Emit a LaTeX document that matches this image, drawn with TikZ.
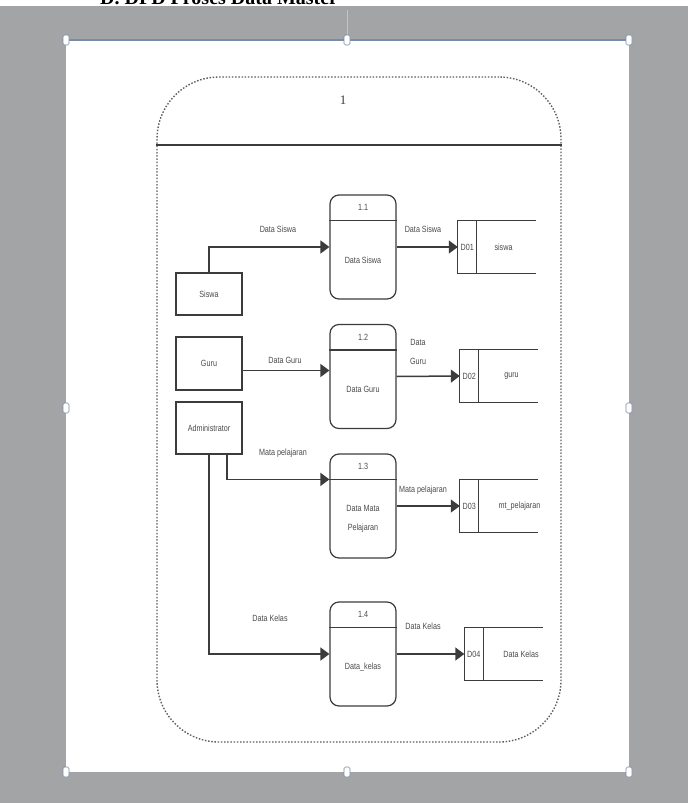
\documentclass[tikz,border=0pt]{standalone}
\usepackage{fontspec}
\newfontfamily\dfdfont[FakeStretch=0.8]{Liberation Sans}
\newfontfamily\headfont{Liberation Serif}
\usetikzlibrary{positioning,arrows.meta,calc}
\definecolor{deskgray}{RGB}{163,164,166}
\definecolor{inkgray}{RGB}{60,60,60}
\definecolor{textgray}{RGB}{75,75,75}
\definecolor{dotgray}{RGB}{95,95,95}
\definecolor{handleblue}{RGB}{118,140,168}
\tikzset{
  entity/.style={rectangle,draw=inkgray,line width=1.2pt,minimum width=66pt,
    font=\dfdfont\fontsize{9}{19}\selectfont,text=textgray},
  process/.style={rectangle,rounded corners=9pt,draw=inkgray,line width=1.2pt,
    minimum width=66pt,minimum height=104pt},
  store/.style={rectangle,minimum width=78pt,minimum height=52pt,inner sep=0pt},
  flow/.style={draw=inkgray,line width=1.5pt,-{Triangle[length=9pt,width=13pt]}},
  lbl/.style={font=\dfdfont\fontsize{9}{19}\selectfont,text=textgray,inner sep=1pt},
}

\begin{document}
\begin{tikzpicture}[x=1pt,y=-1pt]
\useasboundingbox (0,0) rectangle (688,803);
\clip (0,0) rectangle (688,803);
% screen and page
\fill[deskgray] (0,0) rectangle (688,803);
\fill[white] (0,0) rectangle (688,6);
\node[font=\headfont\bfseries\fontsize{20}{24}\selectfont,anchor=base west,inner sep=0pt] (head) at (100,5) {D. DFD Proses Data Master};
\fill[white] (66,40) rectangle (629,772);
\draw[handleblue,line width=1.5pt] (66,40) -- (629,40);
\draw[handleblue!50,line width=0.6pt] (347,10) -- (347,40);
\foreach \hx/\hy in {66/40,347/40,629/40,66/408,629/408,66/772,347/772,629/772}
  \draw[handleblue,fill=white,rounded corners=1.5pt,line width=0.6pt] (\hx-3,\hy-5) rectangle (\hx+3,\hy+5);

% process 1 boundary
\node[rectangle,rounded corners=62pt,draw=dotgray,line width=1.4pt,dash pattern=on 1.5pt off 1.7pt,
  minimum width=404pt,minimum height=665pt] (proc1) at (359,409.5) {};
\draw[inkgray,line width=1.7pt] ([yshift=-69pt]proc1.north west) -- ([yshift=-69pt]proc1.north east);
\node[font=\headfont\fontsize{13}{14}\selectfont,text=inkgray] (proc1num) at (343,100) {1};

% external entities
\node[entity,minimum height=42pt] (siswa) at (209,294) {Siswa};
\node[entity,minimum height=53pt] (guru) at (209,363.5) {Guru};
\node[entity,minimum height=52pt] (admin) at (209,428) {Administrator};

% processes
\node[process] (p11) at (363,247) {};
\node[process] (p12) at (363,376.5) {};
\node[process] (p13) at (363,506) {};
\node[process] (p14) at (363,654) {};
\foreach \p/\num/\name in {p11/1.1/{Data Siswa},p12/1.2/{Data Guru},p13/1.3/{Data Mata\\Pelajaran},p14/1.4/{Data\_kelas}}{
  \draw[inkgray,line width=1.2pt] ([yshift=-26pt]\p.north west) -- ([yshift=-26pt]\p.north east);
  \node[lbl] (\p-num) at ([yshift=-13pt]\p.north) {\num};
  \node[lbl,align=center] (\p-name) at ([yshift=-13pt]\p.center) {\name};
}

% data stores
\node[store] (d01) at (497,247) {};
\node[store] (d02) at (499,376) {};
\node[store] (d03) at (499,506) {};
\node[store] (d04) at (503.5,654) {};
\foreach \d/\id/\name/\off in {d01/D01/siswa/-3,d02/D02/guru/3,d03/D03/mt\_pelajaran/11,d04/D04/{Data Kelas}/8}{
  \draw[inkgray,line width=1.2pt] (\d.north east) -- (\d.north west) -- (\d.south west) -- (\d.south east);
  \draw[inkgray,line width=1.2pt] ([xshift=19pt]\d.north west) -- ([xshift=19pt]\d.south west);
  \node[lbl] (\d-id) at ([xshift=9.5pt]\d.west) {\id};
  \node[lbl] (\d-name) at ([xshift=\off pt+9.5pt]\d.center) {\name};
}

% data flows
\coordinate (guruout) at ([yshift=-7pt]guru.east);
\coordinate (adminout) at ([xshift=18pt]admin.south);
\coordinate (p13in) at ([yshift=-26pt]p13.north west);
\draw[flow] (siswa.north) |- (p11.west);
\draw[flow] (p11.east) -- (d01.west);
\draw[flow] (guruout) -- (guruout -| p12.west);
\draw[flow] (p12.east) -- (d02.west);
\draw[flow] (adminout) |- (p13in);
\draw[flow] (p13.east) -- (d03.west);
\draw[flow] (admin.south) |- (p14.west);
\draw[flow] (p14.east) -- (d04.west);

% flow labels
\node[lbl] (fl1) at (278,229) {Data Siswa};
\node[lbl] (fl2) at (423,229) {Data Siswa};
\node[lbl] (fl3) at (285,360) {Data Guru};
\node[lbl,align=center] (fl4) at (418,352) {Data\\Guru};
\node[lbl] (fl5) at (283,453) {Mata pelajaran};
\node[lbl] (fl6) at (423,490) {Mata pelajaran};
\node[lbl] (fl7) at (270,618) {Data Kelas};
\node[lbl] (fl8) at (423,626) {Data Kelas};
\end{tikzpicture}
\end{document}
